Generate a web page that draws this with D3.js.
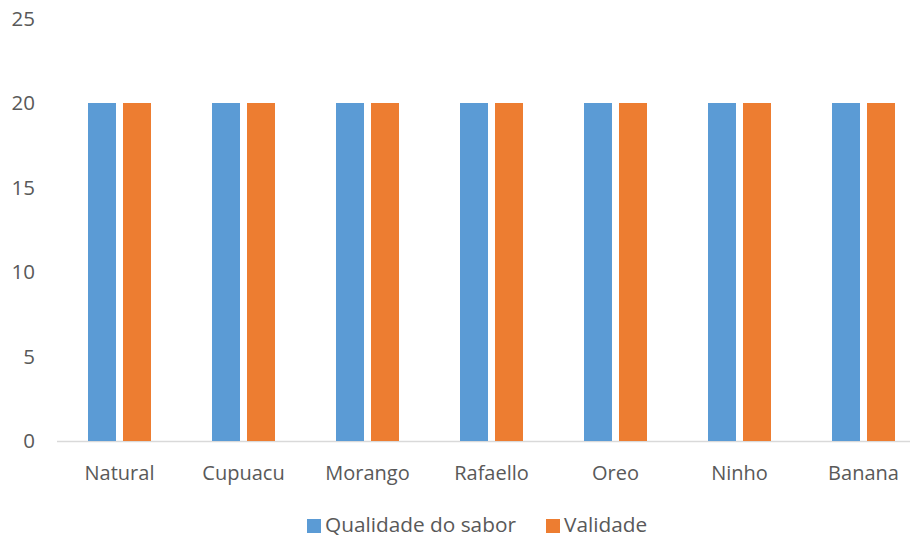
<!DOCTYPE html>
<html><head><meta charset="utf-8">
<script src="https://cdn.jsdelivr.net/npm/d3@7"></script>
<style>body{margin:0;background:#fff}svg{display:block}text{font-family:"Open Sans","Noto Sans",sans-serif;fill:#595959}</style>
</head><body><svg id="c" width="910" height="538"></svg>
<script>
const categories = ["Natural","Cupuacu","Morango","Rafaello","Oreo","Ninho","Banana"];
const seriesNames = ["Qualidade do sabor","Validade"];
const qualidade = [20,20,20,20,20,20,20];
const validade = [20,20,20,20,20,20,20];
const yTicks = [0,5,10,15,20,25];
const colors = ["#5B9BD5","#ED7D31"];

const svg = d3.select("#c");
const x = d3.scaleBand().domain(categories).range([57.5,925.5]);
const y = d3.scaleLinear().domain([0,25]).range([441,18.5]);
const inner = d3.scaleBand().domain([0,1]).range([30.5,93.5]).paddingInner(0.2).paddingOuter(0);

svg.append("line").attr("x1",57).attr("x2",910).attr("y1",y(0)+0.5).attr("y2",y(0)+0.5)
  .attr("stroke","#d9d9d9").attr("stroke-width",1.5);

const data = [qualidade, validade];
data.forEach((vals,si)=>{
  svg.append("g").selectAll("rect").data(categories).join("rect")
    .attr("x",(d)=>x(d)+inner(si))
    .attr("width",inner.bandwidth())
    .attr("y",(d,i)=>y(vals[i]))
    .attr("height",(d,i)=>y(0)-y(vals[i]))
    .attr("fill",colors[si]);
});

const fontFam = "'Open Sans','Noto Sans',sans-serif";
const yAxis = d3.axisLeft(y).tickValues(yTicks).tickSize(0).tickPadding(0);
const ya = svg.append("g").attr("transform","translate(35,0)").call(yAxis);
ya.select(".domain").remove();
ya.selectAll("text").style("font-size","20.5px").style("fill","#595959").style("font-family",fontFam);

const xAxis = d3.axisBottom(x).tickSize(0).tickPadding(0);
const xa = svg.append("g").attr("transform","translate(0,480)").call(xAxis);
xa.select(".domain").remove();
xa.selectAll("text").attr("y",0).attr("dy",0).style("font-size","20px").style("fill","#595959").style("font-family",fontFam);

const legend = [{x:307,tx:325},{x:546,tx:564}];
seriesNames.forEach((n,i)=>{
  svg.append("rect").attr("x",legend[i].x).attr("y",519).attr("width",14).attr("height",14).attr("fill",colors[i]);
  svg.append("text").attr("x",legend[i].tx).attr("y",532).style("font-size","20.8px").text(n);
});
</script></body></html>
